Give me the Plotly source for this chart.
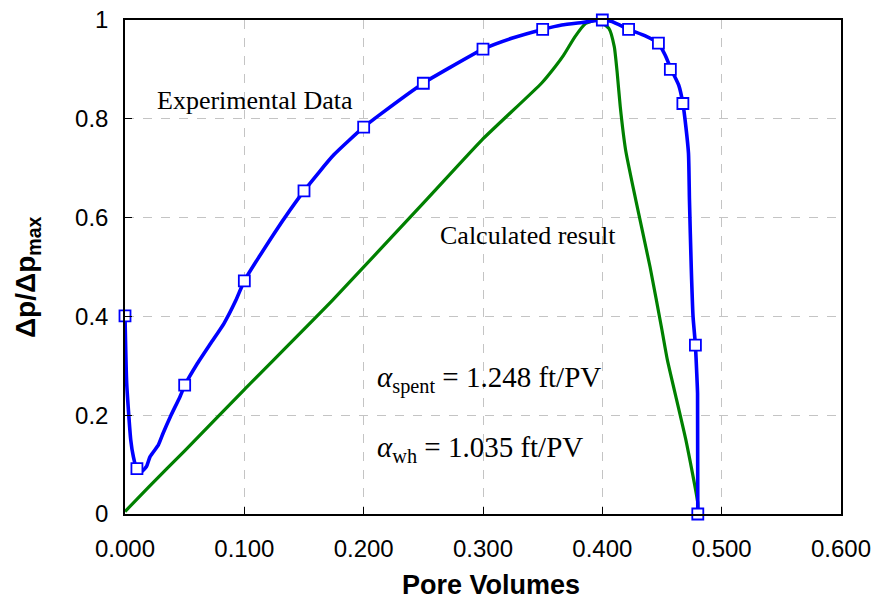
import plotly.graph_objects as go

# Experimental data markers
exp_x = [0.0, 0.010, 0.050, 0.100, 0.150, 0.200, 0.250, 0.300, 0.350, 0.400,
         0.422, 0.447, 0.457, 0.4675, 0.478, 0.480]
exp_y = [0.401, 0.092, 0.261, 0.472, 0.654, 0.783, 0.872, 0.941, 0.981, 1.0,
         0.981, 0.953, 0.900, 0.831, 0.342, 0.0]

# Experimental curve
exp_curve_x = [0.0, 0.0014, 0.0048, 0.007, 0.0098, 0.014, 0.018, 0.021, 0.028, 0.032,
               0.038, 0.046, 0.050, 0.060, 0.072, 0.083, 0.093, 0.100, 0.125, 0.150,
               0.175, 0.200, 0.215, 0.250, 0.271, 0.300, 0.324, 0.350, 0.366, 0.383,
               0.400, 0.408, 0.422, 0.436, 0.447, 0.4526, 0.4577, 0.464, 0.4675, 0.470,
               0.4722, 0.473, 0.4745, 0.476, 0.478, 0.479, 0.4798, 0.480]
exp_curve_y = [0.401, 0.265, 0.150, 0.116, 0.091, 0.086, 0.096, 0.116, 0.140, 0.164,
               0.197, 0.237, 0.260, 0.302, 0.346, 0.386, 0.433, 0.472, 0.568, 0.654,
               0.727, 0.783, 0.811, 0.872, 0.902, 0.941, 0.963, 0.981, 0.990, 0.995,
               1.0, 0.997, 0.981, 0.968, 0.953, 0.929, 0.900, 0.868, 0.831, 0.784,
               0.730, 0.636, 0.500, 0.400, 0.342, 0.291, 0.244, 0.0]

# Calculated result curve
calc_x = [0.0, 0.020, 0.050, 0.100, 0.174, 0.2525, 0.299, 0.349, 0.3606, 0.3676,
          0.377, 0.386, 0.396, 0.4055, 0.410, 0.4125, 0.415, 0.4195, 0.428, 0.440,
          0.450, 0.4545, 0.470, 0.480, 0.480]
calc_y = [0.005, 0.055, 0.128, 0.252, 0.433, 0.636, 0.757, 0.872, 0.906, 0.929,
          0.966, 0.993, 1.0, 0.983, 0.946, 0.892, 0.825, 0.737, 0.636, 0.500,
          0.372, 0.312, 0.150, 0.022, 0.0]

x_ticks = [0.0, 0.1, 0.2, 0.3, 0.4, 0.5, 0.6]
y_ticks = [0, 0.2, 0.4, 0.6, 0.8, 1.0]

sans = "Liberation Sans, Arial, sans-serif"
serif = "Liberation Serif, Times New Roman, serif"

fig = go.Figure()
fig.add_trace(go.Scatter(x=calc_x, y=calc_y, mode="lines",
                         line=dict(color="#008000", width=3.2, shape="spline", smoothing=0.5),
                         cliponaxis=False, showlegend=False, hoverinfo="skip"))
fig.add_trace(go.Scatter(x=exp_curve_x, y=exp_curve_y, mode="lines",
                         line=dict(color="#0000ff", width=3.6, shape="spline", smoothing=0.5),
                         cliponaxis=False, showlegend=False, hoverinfo="skip"))
fig.add_trace(go.Scatter(x=exp_x, y=exp_y, mode="markers",
                         marker=dict(symbol="square", size=11, color="white",
                                     line=dict(color="#0000ff", width=1.8)),
                         cliponaxis=False, showlegend=False))

fig.update_layout(
    width=871, height=609,
    margin=dict(l=125, r=30, t=20, b=95),
    paper_bgcolor="white", plot_bgcolor="white",
    font=dict(family=sans, size=24, color="black"),
    xaxis=dict(range=[0, 0.6], tickvals=x_ticks, tickformat=".3f",
               showgrid=True, gridcolor="#c4c4c4", griddash="dash", gridwidth=1,
               ticks="inside", ticklen=7, tickcolor="black",
               showline=True, linecolor="black", linewidth=1.5, mirror=True,
               zeroline=False, ticklabelstandoff=12, automargin=False,
               ticklabeloverflow="allow",
               tickfont=dict(family=sans, size=24)),
    yaxis=dict(range=[0, 1], tickvals=y_ticks,
               showgrid=True, gridcolor="#c4c4c4", griddash="dash", gridwidth=1,
               ticks="inside", ticklen=7, tickcolor="black",
               showline=True, linecolor="black", linewidth=1.5, mirror=True,
               zeroline=False, ticklabelstandoff=10, automargin=False,
               ticklabeloverflow="allow",
               tickfont=dict(family=sans, size=24)),
)

annotations = [
    dict(text="Experimental Data", x=0.025, y=0.838, xanchor="left", yanchor="middle",
         font=dict(family=serif, size=26)),
    dict(text="Calculated result", x=0.262, y=0.563, xanchor="left", yanchor="middle",
         font=dict(family=serif, size=26)),
    dict(text="<i>α</i><sub>spent</sub> = 1.248 ft/PV", x=0.2097, y=0.272,
         xanchor="left", yanchor="middle", font=dict(family=serif, size=29)),
    dict(text="<i>α</i><sub>wh</sub> = 1.035 ft/PV", x=0.2097, y=0.132,
         xanchor="left", yanchor="middle", font=dict(family=serif, size=29)),
    dict(text="<b>Pore Volumes</b>", xref="paper", yref="paper", x=0.5, y=0,
         xshift=8, yshift=-71, xanchor="center", yanchor="middle",
         font=dict(family=sans, size=27)),
    dict(text="<b>Δp/Δp<sub>max</sub></b>", xref="paper", yref="paper", x=0, y=0.5,
         xshift=-98, yshift=-10, xanchor="center", yanchor="middle", textangle=-90,
         font=dict(family=sans, size=28)),
]
for a in annotations:
    a.setdefault("xref", "x")
    a.setdefault("yref", "y")
    a["showarrow"] = False
fig.update_layout(annotations=annotations)

fig.write_html("out.html")
